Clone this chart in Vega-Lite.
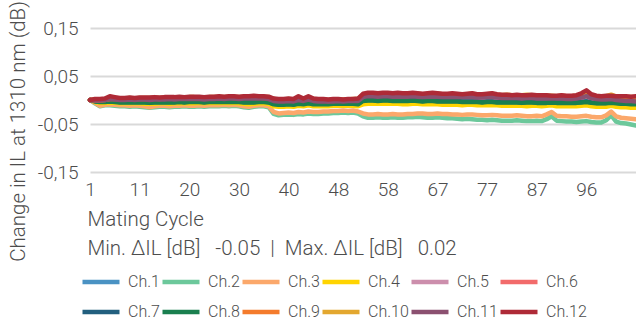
{
"$schema": "https://vega.github.io/schema/vega-lite/v6.json",
"width": 546, "height": 144,
"autosize": "none",
"padding": {"left": 90, "top": 28, "right": 0, "bottom": 150},
"background": "white",
"config": {"view": {"stroke": null}, "font": "Roboto"},
"data": {"values": [
{"i":0,"c01":0,"c02":0,"c03":0,"c04":0,"c05":0,"c06":0,"c07":0,"c08":0,"c09":0,"c10":0,"c11":0,"c12":0},
{"i":1,"c01":-0.001,"c02":-0.007,"c03":-0.006,"c04":-0.004,"c05":-0.002,"c06":0,"c07":-0.002,"c08":-0.003,"c09":-0.001,"c10":0.001,"c11":-0.001,"c12":0.002},
{"i":2,"c01":-0.002,"c02":-0.013,"c03":-0.012,"c04":-0.006,"c05":-0.002,"c06":0,"c07":-0.003,"c08":-0.004,"c09":-0.001,"c10":0.001,"c11":-0.001,"c12":0.002},
{"i":3,"c01":-0.002,"c02":-0.011,"c03":-0.010,"c04":-0.006,"c05":-0.001,"c06":0.001,"c07":-0.003,"c08":-0.004,"c09":0,"c10":0.002,"c11":0,"c12":0.003},
{"i":4,"c01":-0.001,"c02":-0.011,"c03":-0.009,"c04":-0.005,"c05":0.001,"c06":0.003,"c07":-0.002,"c08":-0.003,"c09":0.002,"c10":0.004,"c11":0.002,"c12":0.008},
{"i":5,"c01":-0.002,"c02":-0.012,"c03":-0.010,"c04":-0.006,"c05":0,"c06":0.003,"c07":-0.003,"c08":-0.004,"c09":0.002,"c10":0.004,"c11":0.001,"c12":0.006},
{"i":6,"c01":-0.003,"c02":-0.013,"c03":-0.011,"c04":-0.007,"c05":-0.001,"c06":0.002,"c07":-0.004,"c08":-0.005,"c09":0.001,"c10":0.003,"c11":0,"c12":0.004},
{"i":7,"c01":-0.003,"c02":-0.013,"c03":-0.011,"c04":-0.007,"c05":-0.001,"c06":0.002,"c07":-0.004,"c08":-0.005,"c09":0.001,"c10":0.003,"c11":0,"c12":0.004},
{"i":8,"c01":-0.003,"c02":-0.014,"c03":-0.012,"c04":-0.007,"c05":0,"c06":0.003,"c07":-0.004,"c08":-0.005,"c09":0.002,"c10":0.004,"c11":0.001,"c12":0.005},
{"i":9,"c01":-0.003,"c02":-0.013,"c03":-0.011,"c04":-0.007,"c05":-0.001,"c06":0.002,"c07":-0.004,"c08":-0.005,"c09":0.001,"c10":0.003,"c11":0,"c12":0.004},
{"i":10,"c01":-0.003,"c02":-0.014,"c03":-0.012,"c04":-0.007,"c05":0,"c06":0.003,"c07":-0.004,"c08":-0.005,"c09":0.002,"c10":0.004,"c11":0.001,"c12":0.005},
{"i":11,"c01":-0.003,"c02":-0.015,"c03":-0.013,"c04":-0.008,"c05":0,"c06":0.003,"c07":-0.004,"c08":-0.005,"c09":0.002,"c10":0.004,"c11":0.001,"c12":0.005},
{"i":12,"c01":-0.004,"c02":-0.016,"c03":-0.015,"c04":-0.008,"c05":-0.001,"c06":0.003,"c07":-0.005,"c08":-0.006,"c09":0.002,"c10":0.004,"c11":0,"c12":0.005},
{"i":13,"c01":-0.003,"c02":-0.015,"c03":-0.013,"c04":-0.008,"c05":0,"c06":0.004,"c07":-0.004,"c08":-0.005,"c09":0.003,"c10":0.005,"c11":0.001,"c12":0.006},
{"i":14,"c01":-0.003,"c02":-0.014,"c03":-0.012,"c04":-0.007,"c05":0,"c06":0.003,"c07":-0.004,"c08":-0.005,"c09":0.002,"c10":0.004,"c11":0.001,"c12":0.005},
{"i":15,"c01":-0.003,"c02":-0.014,"c03":-0.012,"c04":-0.007,"c05":0,"c06":0.004,"c07":-0.004,"c08":-0.005,"c09":0.003,"c10":0.005,"c11":0.001,"c12":0.006},
{"i":16,"c01":-0.003,"c02":-0.015,"c03":-0.013,"c04":-0.008,"c05":0.001,"c06":0.004,"c07":-0.004,"c08":-0.005,"c09":0.003,"c10":0.005,"c11":0.002,"c12":0.006},
{"i":17,"c01":-0.003,"c02":-0.014,"c03":-0.012,"c04":-0.007,"c05":0,"c06":0.004,"c07":-0.004,"c08":-0.005,"c09":0.003,"c10":0.005,"c11":0.001,"c12":0.006},
{"i":18,"c01":-0.002,"c02":-0.014,"c03":-0.012,"c04":-0.007,"c05":0.001,"c06":0.004,"c07":-0.003,"c08":-0.004,"c09":0.003,"c10":0.005,"c11":0.002,"c12":0.007},
{"i":19,"c01":-0.003,"c02":-0.013,"c03":-0.011,"c04":-0.007,"c05":0.001,"c06":0.004,"c07":-0.004,"c08":-0.005,"c09":0.003,"c10":0.005,"c11":0.002,"c12":0.006},
{"i":20,"c01":-0.002,"c02":-0.014,"c03":-0.012,"c04":-0.007,"c05":0.001,"c06":0.005,"c07":-0.003,"c08":-0.004,"c09":0.004,"c10":0.006,"c11":0.002,"c12":0.007},
{"i":21,"c01":-0.002,"c02":-0.014,"c03":-0.012,"c04":-0.007,"c05":0.001,"c06":0.005,"c07":-0.003,"c08":-0.004,"c09":0.004,"c10":0.006,"c11":0.002,"c12":0.007},
{"i":22,"c01":-0.002,"c02":-0.013,"c03":-0.011,"c04":-0.006,"c05":0.001,"c06":0.004,"c07":-0.003,"c08":-0.004,"c09":0.003,"c10":0.005,"c11":0.002,"c12":0.007},
{"i":23,"c01":-0.003,"c02":-0.014,"c03":-0.012,"c04":-0.007,"c05":0,"c06":0.004,"c07":-0.004,"c08":-0.005,"c09":0.003,"c10":0.005,"c11":0.001,"c12":0.006},
{"i":24,"c01":-0.002,"c02":-0.013,"c03":-0.011,"c04":-0.006,"c05":0.001,"c06":0.005,"c07":-0.003,"c08":-0.004,"c09":0.004,"c10":0.006,"c11":0.002,"c12":0.007},
{"i":25,"c01":-0.002,"c02":-0.013,"c03":-0.011,"c04":-0.006,"c05":0.001,"c06":0.005,"c07":-0.003,"c08":-0.004,"c09":0.004,"c10":0.006,"c11":0.002,"c12":0.007},
{"i":26,"c01":-0.002,"c02":-0.013,"c03":-0.011,"c04":-0.006,"c05":0.002,"c06":0.005,"c07":-0.003,"c08":-0.004,"c09":0.004,"c10":0.006,"c11":0.003,"c12":0.008},
{"i":27,"c01":-0.002,"c02":-0.012,"c03":-0.010,"c04":-0.006,"c05":0.001,"c06":0.005,"c07":-0.003,"c08":-0.004,"c09":0.004,"c10":0.006,"c11":0.002,"c12":0.007},
{"i":28,"c01":-0.002,"c02":-0.013,"c03":-0.011,"c04":-0.006,"c05":0.002,"c06":0.006,"c07":-0.003,"c08":-0.004,"c09":0.005,"c10":0.007,"c11":0.003,"c12":0.008},
{"i":29,"c01":-0.002,"c02":-0.012,"c03":-0.010,"c04":-0.006,"c05":0.002,"c06":0.005,"c07":-0.003,"c08":-0.004,"c09":0.004,"c10":0.006,"c11":0.003,"c12":0.008},
{"i":30,"c01":-0.002,"c02":-0.013,"c03":-0.011,"c04":-0.007,"c05":0.001,"c06":0.005,"c07":-0.003,"c08":-0.004,"c09":0.004,"c10":0.006,"c11":0.002,"c12":0.007},
{"i":31,"c01":-0.003,"c02":-0.015,"c03":-0.013,"c04":-0.008,"c05":0.002,"c06":0.006,"c07":-0.004,"c08":-0.005,"c09":0.005,"c10":0.007,"c11":0.003,"c12":0.008},
{"i":32,"c01":-0.003,"c02":-0.016,"c03":-0.014,"c04":-0.009,"c05":0.002,"c06":0.006,"c07":-0.004,"c08":-0.005,"c09":0.005,"c10":0.007,"c11":0.003,"c12":0.008},
{"i":33,"c01":-0.003,"c02":-0.014,"c03":-0.012,"c04":-0.008,"c05":0.002,"c06":0.006,"c07":-0.004,"c08":-0.005,"c09":0.005,"c10":0.007,"c11":0.003,"c12":0.009},
{"i":34,"c01":-0.002,"c02":-0.013,"c03":-0.011,"c04":-0.007,"c05":0.002,"c06":0.006,"c07":-0.003,"c08":-0.004,"c09":0.005,"c10":0.007,"c11":0.003,"c12":0.008},
{"i":35,"c01":-0.002,"c02":-0.013,"c03":-0.011,"c04":-0.007,"c05":0.002,"c06":0.005,"c07":-0.003,"c08":-0.004,"c09":0.004,"c10":0.006,"c11":0.003,"c12":0.008},
{"i":36,"c01":-0.003,"c02":-0.015,"c03":-0.013,"c04":-0.008,"c05":0.001,"c06":0.005,"c07":-0.004,"c08":-0.005,"c09":0.004,"c10":0.006,"c11":0.002,"c12":0.007},
{"i":37,"c01":-0.007,"c02":-0.029,"c03":-0.025,"c04":-0.013,"c05":-0.003,"c06":0.001,"c07":-0.008,"c08":-0.009,"c09":0,"c10":0.002,"c11":-0.002,"c12":0.003},
{"i":38,"c01":-0.008,"c02":-0.032,"c03":-0.028,"c04":-0.014,"c05":-0.004,"c06":0,"c07":-0.009,"c08":-0.010,"c09":-0.001,"c10":0.001,"c11":-0.003,"c12":0.002},
{"i":39,"c01":-0.008,"c02":-0.031,"c03":-0.027,"c04":-0.014,"c05":-0.004,"c06":0,"c07":-0.009,"c08":-0.010,"c09":-0.001,"c10":0.001,"c11":-0.003,"c12":0.002},
{"i":40,"c01":-0.007,"c02":-0.030,"c03":-0.026,"c04":-0.013,"c05":-0.003,"c06":0.001,"c07":-0.008,"c08":-0.009,"c09":0,"c10":0.002,"c11":-0.002,"c12":0.003},
{"i":41,"c01":-0.008,"c02":-0.031,"c03":-0.027,"c04":-0.014,"c05":-0.004,"c06":0,"c07":-0.009,"c08":-0.010,"c09":-0.001,"c10":0.001,"c11":-0.003,"c12":0.002},
{"i":42,"c01":-0.006,"c02":-0.029,"c03":-0.025,"c04":-0.012,"c05":-0.001,"c06":0.004,"c07":-0.007,"c08":-0.008,"c09":0.003,"c10":0.005,"c11":0,"c12":0.008},
{"i":43,"c01":-0.007,"c02":-0.030,"c03":-0.026,"c04":-0.013,"c05":-0.003,"c06":0.001,"c07":-0.008,"c08":-0.009,"c09":0,"c10":0.002,"c11":-0.002,"c12":0.003},
{"i":44,"c01":-0.005,"c02":-0.028,"c03":-0.024,"c04":-0.011,"c05":0,"c06":0.005,"c07":-0.006,"c08":-0.007,"c09":0.004,"c10":0.006,"c11":0.001,"c12":0.008},
{"i":45,"c01":-0.007,"c02":-0.029,"c03":-0.025,"c04":-0.013,"c05":-0.003,"c06":0.001,"c07":-0.008,"c08":-0.009,"c09":0,"c10":0.002,"c11":-0.002,"c12":0.003},
{"i":46,"c01":-0.007,"c02":-0.029,"c03":-0.025,"c04":-0.013,"c05":-0.004,"c06":0,"c07":-0.008,"c08":-0.009,"c09":-0.001,"c10":0.001,"c11":-0.003,"c12":0.002},
{"i":47,"c01":-0.007,"c02":-0.028,"c03":-0.024,"c04":-0.013,"c05":-0.004,"c06":0,"c07":-0.008,"c08":-0.009,"c09":-0.001,"c10":0.001,"c11":-0.003,"c12":0.002},
{"i":48,"c01":-0.007,"c02":-0.028,"c03":-0.024,"c04":-0.013,"c05":-0.004,"c06":-0.001,"c07":-0.008,"c08":-0.009,"c09":-0.002,"c10":0,"c11":-0.003,"c12":0.001},
{"i":49,"c01":-0.006,"c02":-0.027,"c03":-0.023,"c04":-0.012,"c05":-0.004,"c06":0,"c07":-0.007,"c08":-0.008,"c09":-0.001,"c10":0.001,"c11":-0.003,"c12":0.002},
{"i":50,"c01":-0.006,"c02":-0.027,"c03":-0.023,"c04":-0.012,"c05":-0.003,"c06":0,"c07":-0.007,"c08":-0.008,"c09":-0.001,"c10":0.001,"c11":-0.002,"c12":0.002},
{"i":51,"c01":-0.006,"c02":-0.026,"c03":-0.022,"c04":-0.012,"c05":-0.004,"c06":0,"c07":-0.007,"c08":-0.008,"c09":-0.001,"c10":0.001,"c11":-0.003,"c12":0.001},
{"i":52,"c01":-0.006,"c02":-0.027,"c03":-0.023,"c04":-0.012,"c05":-0.003,"c06":0,"c07":-0.007,"c08":-0.008,"c09":-0.001,"c10":0.001,"c11":-0.002,"c12":0.002},
{"i":53,"c01":-0.006,"c02":-0.026,"c03":-0.022,"c04":-0.012,"c05":-0.003,"c06":0.001,"c07":-0.007,"c08":-0.008,"c09":0,"c10":0.002,"c11":-0.002,"c12":0.002},
{"i":54,"c01":-0.007,"c02":-0.028,"c03":-0.024,"c04":-0.013,"c05":-0.003,"c06":0.001,"c07":-0.008,"c08":-0.009,"c09":0,"c10":0.002,"c11":-0.002,"c12":0.003},
{"i":55,"c01":0,"c02":-0.034,"c03":-0.028,"c04":-0.009,"c05":0.005,"c06":0.010,"c07":-0.001,"c08":-0.002,"c09":0.009,"c10":0.011,"c11":0.006,"c12":0.013},
{"i":56,"c01":0.001,"c02":-0.037,"c03":-0.030,"c04":-0.008,"c05":0.007,"c06":0.012,"c07":0,"c08":-0.001,"c09":0.011,"c10":0.013,"c11":0.008,"c12":0.015},
{"i":57,"c01":0.001,"c02":-0.037,"c03":-0.030,"c04":-0.008,"c05":0.007,"c06":0.012,"c07":0,"c08":-0.001,"c09":0.011,"c10":0.013,"c11":0.008,"c12":0.015},
{"i":58,"c01":0,"c02":-0.036,"c03":-0.029,"c04":-0.008,"c05":0.006,"c06":0.011,"c07":-0.001,"c08":-0.002,"c09":0.010,"c10":0.012,"c11":0.007,"c12":0.014},
{"i":59,"c01":0.001,"c02":-0.037,"c03":-0.030,"c04":-0.008,"c05":0.007,"c06":0.012,"c07":0,"c08":-0.001,"c09":0.011,"c10":0.013,"c11":0.008,"c12":0.015},
{"i":60,"c01":0.001,"c02":-0.037,"c03":-0.030,"c04":-0.008,"c05":0.007,"c06":0.012,"c07":0,"c08":-0.001,"c09":0.011,"c10":0.013,"c11":0.008,"c12":0.015},
{"i":61,"c01":0,"c02":-0.036,"c03":-0.029,"c04":-0.008,"c05":0.006,"c06":0.011,"c07":-0.001,"c08":-0.002,"c09":0.010,"c10":0.012,"c11":0.007,"c12":0.014},
{"i":62,"c01":0,"c02":-0.037,"c03":-0.030,"c04":-0.008,"c05":0.006,"c06":0.012,"c07":-0.001,"c08":-0.002,"c09":0.011,"c10":0.013,"c11":0.007,"c12":0.015},
{"i":63,"c01":0,"c02":-0.037,"c03":-0.030,"c04":-0.009,"c05":0.006,"c06":0.012,"c07":-0.001,"c08":-0.002,"c09":0.011,"c10":0.013,"c11":0.007,"c12":0.014},
{"i":64,"c01":0,"c02":-0.036,"c03":-0.029,"c04":-0.009,"c05":0.006,"c06":0.011,"c07":-0.001,"c08":-0.002,"c09":0.010,"c10":0.012,"c11":0.007,"c12":0.014},
{"i":65,"c01":0.001,"c02":-0.036,"c03":-0.029,"c04":-0.008,"c05":0.007,"c06":0.012,"c07":0,"c08":-0.001,"c09":0.011,"c10":0.013,"c11":0.008,"c12":0.015},
{"i":66,"c01":0,"c02":-0.035,"c03":-0.028,"c04":-0.008,"c05":0.006,"c06":0.012,"c07":-0.001,"c08":-0.002,"c09":0.011,"c10":0.013,"c11":0.007,"c12":0.014},
{"i":67,"c01":-0.001,"c02":-0.036,"c03":-0.028,"c04":-0.009,"c05":0.005,"c06":0.011,"c07":-0.002,"c08":-0.003,"c09":0.010,"c10":0.012,"c11":0.006,"c12":0.013},
{"i":68,"c01":0,"c02":-0.037,"c03":-0.029,"c04":-0.009,"c05":0.006,"c06":0.011,"c07":-0.001,"c08":-0.002,"c09":0.010,"c10":0.012,"c11":0.007,"c12":0.014},
{"i":69,"c01":0,"c02":-0.037,"c03":-0.029,"c04":-0.009,"c05":0.006,"c06":0.012,"c07":-0.001,"c08":-0.002,"c09":0.011,"c10":0.013,"c11":0.007,"c12":0.015},
{"i":70,"c01":-0.001,"c02":-0.036,"c03":-0.028,"c04":-0.009,"c05":0.006,"c06":0.012,"c07":-0.002,"c08":-0.003,"c09":0.011,"c10":0.013,"c11":0.007,"c12":0.014},
{"i":71,"c01":-0.001,"c02":-0.037,"c03":-0.029,"c04":-0.010,"c05":0.005,"c06":0.011,"c07":-0.002,"c08":-0.003,"c09":0.010,"c10":0.012,"c11":0.006,"c12":0.013},
{"i":72,"c01":-0.001,"c02":-0.038,"c03":-0.029,"c04":-0.010,"c05":0.005,"c06":0.011,"c07":-0.002,"c08":-0.003,"c09":0.010,"c10":0.012,"c11":0.006,"c12":0.013},
{"i":73,"c01":-0.001,"c02":-0.038,"c03":-0.030,"c04":-0.010,"c05":0.006,"c06":0.011,"c07":-0.002,"c08":-0.003,"c09":0.010,"c10":0.012,"c11":0.007,"c12":0.014},
{"i":74,"c01":-0.001,"c02":-0.039,"c03":-0.030,"c04":-0.010,"c05":0.005,"c06":0.011,"c07":-0.002,"c08":-0.003,"c09":0.010,"c10":0.012,"c11":0.006,"c12":0.013},
{"i":75,"c01":-0.002,"c02":-0.040,"c03":-0.031,"c04":-0.011,"c05":0.005,"c06":0.010,"c07":-0.003,"c08":-0.004,"c09":0.009,"c10":0.011,"c11":0.006,"c12":0.012},
{"i":76,"c01":-0.002,"c02":-0.039,"c03":-0.030,"c04":-0.010,"c05":0.005,"c06":0.011,"c07":-0.003,"c08":-0.004,"c09":0.010,"c10":0.012,"c11":0.006,"c12":0.013},
{"i":77,"c01":-0.002,"c02":-0.040,"c03":-0.030,"c04":-0.010,"c05":0.005,"c06":0.012,"c07":-0.003,"c08":-0.004,"c09":0.011,"c10":0.013,"c11":0.006,"c12":0.014},
{"i":78,"c01":-0.002,"c02":-0.041,"c03":-0.031,"c04":-0.011,"c05":0.004,"c06":0.010,"c07":-0.003,"c08":-0.004,"c09":0.009,"c10":0.011,"c11":0.005,"c12":0.012},
{"i":79,"c01":-0.003,"c02":-0.041,"c03":-0.032,"c04":-0.011,"c05":0.004,"c06":0.010,"c07":-0.004,"c08":-0.005,"c09":0.009,"c10":0.011,"c11":0.005,"c12":0.012},
{"i":80,"c01":-0.002,"c02":-0.042,"c03":-0.032,"c04":-0.011,"c05":0.005,"c06":0.011,"c07":-0.003,"c08":-0.004,"c09":0.010,"c10":0.012,"c11":0.006,"c12":0.013},
{"i":81,"c01":-0.002,"c02":-0.041,"c03":-0.031,"c04":-0.011,"c05":0.005,"c06":0.012,"c07":-0.003,"c08":-0.004,"c09":0.011,"c10":0.013,"c11":0.006,"c12":0.014},
{"i":82,"c01":-0.003,"c02":-0.042,"c03":-0.032,"c04":-0.011,"c05":0.004,"c06":0.010,"c07":-0.004,"c08":-0.005,"c09":0.009,"c10":0.011,"c11":0.005,"c12":0.012},
{"i":83,"c01":-0.003,"c02":-0.043,"c03":-0.033,"c04":-0.012,"c05":0.003,"c06":0.009,"c07":-0.004,"c08":-0.005,"c09":0.008,"c10":0.010,"c11":0.004,"c12":0.011},
{"i":84,"c01":-0.003,"c02":-0.043,"c03":-0.033,"c04":-0.012,"c05":0.003,"c06":0.010,"c07":-0.004,"c08":-0.005,"c09":0.009,"c10":0.011,"c11":0.004,"c12":0.011},
{"i":85,"c01":-0.003,"c02":-0.043,"c03":-0.033,"c04":-0.012,"c05":0.003,"c06":0.009,"c07":-0.004,"c08":-0.005,"c09":0.008,"c10":0.010,"c11":0.004,"c12":0.010},
{"i":86,"c01":-0.003,"c02":-0.042,"c03":-0.032,"c04":-0.012,"c05":0.003,"c06":0.009,"c07":-0.004,"c08":-0.005,"c09":0.008,"c10":0.010,"c11":0.004,"c12":0.011},
{"i":87,"c01":-0.004,"c02":-0.043,"c03":-0.033,"c04":-0.012,"c05":0.002,"c06":0.009,"c07":-0.005,"c08":-0.006,"c09":0.008,"c10":0.010,"c11":0.003,"c12":0.010},
{"i":88,"c01":-0.003,"c02":-0.044,"c03":-0.034,"c04":-0.013,"c05":0.003,"c06":0.010,"c07":-0.004,"c08":-0.005,"c09":0.009,"c10":0.011,"c11":0.004,"c12":0.010},
{"i":89,"c01":-0.003,"c02":-0.044,"c03":-0.034,"c04":-0.012,"c05":0.003,"c06":0.009,"c07":-0.004,"c08":-0.005,"c09":0.008,"c10":0.010,"c11":0.004,"c12":0.011},
{"i":90,"c01":-0.004,"c02":-0.043,"c03":-0.033,"c04":-0.012,"c05":0.002,"c06":0.008,"c07":-0.005,"c08":-0.006,"c09":0.007,"c10":0.009,"c11":0.003,"c12":0.010},
{"i":91,"c01":-0.004,"c02":-0.044,"c03":-0.034,"c04":-0.013,"c05":0.002,"c06":0.008,"c07":-0.005,"c08":-0.006,"c09":0.007,"c10":0.009,"c11":0.003,"c12":0.010},
{"i":92,"c01":-0.004,"c02":-0.040,"c03":-0.030,"c04":-0.012,"c05":0.002,"c06":0.008,"c07":-0.005,"c08":-0.006,"c09":0.007,"c10":0.009,"c11":0.003,"c12":0.010},
{"i":93,"c01":-0.003,"c02":-0.034,"c03":-0.025,"c04":-0.011,"c05":0.002,"c06":0.008,"c07":-0.004,"c08":-0.005,"c09":0.007,"c10":0.009,"c11":0.003,"c12":0.009},
{"i":94,"c01":-0.004,"c02":-0.043,"c03":-0.033,"c04":-0.013,"c05":0.002,"c06":0.007,"c07":-0.005,"c08":-0.006,"c09":0.006,"c10":0.008,"c11":0.003,"c12":0.009},
{"i":95,"c01":-0.004,"c02":-0.044,"c03":-0.034,"c04":-0.013,"c05":0.002,"c06":0.008,"c07":-0.005,"c08":-0.006,"c09":0.007,"c10":0.009,"c11":0.003,"c12":0.010},
{"i":96,"c01":-0.004,"c02":-0.045,"c03":-0.034,"c04":-0.013,"c05":0.001,"c06":0.007,"c07":-0.005,"c08":-0.006,"c09":0.006,"c10":0.008,"c11":0.002,"c12":0.009},
{"i":97,"c01":-0.004,"c02":-0.045,"c03":-0.035,"c04":-0.013,"c05":0.001,"c06":0.007,"c07":-0.005,"c08":-0.006,"c09":0.006,"c10":0.008,"c11":0.002,"c12":0.009},
{"i":98,"c01":-0.004,"c02":-0.046,"c03":-0.035,"c04":-0.013,"c05":0.002,"c06":0.008,"c07":-0.005,"c08":-0.006,"c09":0.007,"c10":0.009,"c11":0.003,"c12":0.010},
{"i":99,"c01":-0.003,"c02":-0.045,"c03":-0.034,"c04":-0.012,"c05":0.004,"c06":0.010,"c07":-0.004,"c08":-0.005,"c09":0.009,"c10":0.011,"c11":0.005,"c12":0.014},
{"i":100,"c01":-0.002,"c02":-0.044,"c03":-0.033,"c04":-0.011,"c05":0.007,"c06":0.013,"c07":-0.003,"c08":-0.004,"c09":0.012,"c10":0.014,"c11":0.008,"c12":0.020},
{"i":101,"c01":-0.004,"c02":-0.046,"c03":-0.035,"c04":-0.013,"c05":0.003,"c06":0.009,"c07":-0.005,"c08":-0.006,"c09":0.008,"c10":0.010,"c11":0.004,"c12":0.012},
{"i":102,"c01":-0.005,"c02":-0.047,"c03":-0.036,"c04":-0.014,"c05":0.001,"c06":0.007,"c07":-0.006,"c08":-0.007,"c09":0.006,"c10":0.008,"c11":0.002,"c12":0.009},
{"i":103,"c01":-0.005,"c02":-0.047,"c03":-0.036,"c04":-0.014,"c05":0,"c06":0.006,"c07":-0.006,"c08":-0.007,"c09":0.005,"c10":0.007,"c11":0.001,"c12":0.008},
{"i":104,"c01":-0.005,"c02":-0.042,"c03":-0.032,"c04":-0.014,"c05":0,"c06":0.007,"c07":-0.006,"c08":-0.007,"c09":0.006,"c10":0.008,"c11":0.001,"c12":0.009},
{"i":105,"c01":-0.004,"c02":-0.032,"c03":-0.024,"c04":-0.012,"c05":0.001,"c06":0.010,"c07":-0.005,"c08":-0.006,"c09":0.009,"c10":0.011,"c11":0.002,"c12":0.009},
{"i":106,"c01":-0.005,"c02":-0.045,"c03":-0.034,"c04":-0.014,"c05":-0.001,"c06":0.006,"c07":-0.006,"c08":-0.007,"c09":0.005,"c10":0.007,"c11":0,"c12":0.008},
{"i":107,"c01":-0.006,"c02":-0.048,"c03":-0.037,"c04":-0.015,"c05":-0.002,"c06":0.006,"c07":-0.007,"c08":-0.008,"c09":0.005,"c10":0.007,"c11":-0.001,"c12":0.008},
{"i":108,"c01":-0.006,"c02":-0.049,"c03":-0.038,"c04":-0.015,"c05":-0.003,"c06":0.005,"c07":-0.007,"c08":-0.008,"c09":0.004,"c10":0.006,"c11":-0.002,"c12":0.008},
{"i":109,"c01":-0.007,"c02":-0.051,"c03":-0.039,"c04":-0.016,"c05":-0.003,"c06":0.005,"c07":-0.008,"c08":-0.009,"c09":0.004,"c10":0.006,"c11":-0.002,"c12":0.007},
{"i":110,"c01":-0.007,"c02":-0.053,"c03":-0.040,"c04":-0.016,"c05":-0.004,"c06":0.005,"c07":-0.008,"c08":-0.009,"c09":0.004,"c10":0.006,"c11":-0.003,"c12":0.008}
]},
"transform": [{"fold": ["c01","c02","c03","c04","c05","c06","c07","c08","c09","c10","c11","c12"], "as": ["ch", "il"]}],
"mark": {"type": "line", "strokeWidth": 4.5, "strokeCap": "round", "strokeJoin": "round"},
"encoding": {
  "x": {"field": "i", "type": "quantitative",
    "scale": {"domain": [0, 110], "nice": false, "zero": false},
    "axis": {"values": [0,10,20,30,40,50,60,70,80,90,100],
      "labelExpr": "['1','11','20','30','40','48','58','67','77','87','96'][datum.value / 10]",
      "grid": false, "domain": false, "ticks": false, "labelPadding": 8,
      "labelFontSize": 19, "labelColor": "#4d4d4d", "labelFont": "Roboto", "labelFontWeight": 300,
      "labelFlush": false, "labelOverlap": false,
      "title": ["Mating Cycle", "Min. ΔIL [dB]\u00a0\u00a0 -0.05 \u00a0|\u00a0 Max. ΔIL [dB]\u00a0\u00a0 0.02"],
      "titleAnchor": "start", "titleAlign": "left", "titleX": -3, "titleY": 53, "titleBaseline": "alphabetic",
      "titleFontSize": 20.5, "titleFontWeight": 300, "titleFont": "Roboto", "titleColor": "#4d4d4d", "titleLineHeight": 29}},
  "y": {"field": "il", "type": "quantitative",
    "scale": {"domain": [-0.15, 0.15], "nice": false},
    "axis": {"values": [-0.15, -0.05, 0.05, 0.15],
      "labelExpr": "replace(toString(datum.value), '.', ',')",
      "grid": true, "gridColor": "#d9d9d9", "gridWidth": 2, "domain": false, "ticks": false,
      "labelPadding": 12, "labelFontSize": 19, "labelColor": "#4d4d4d", "labelFont": "Roboto", "labelFontWeight": 300,
      "title": "Change in IL at 1310 nm (dB)", "titleX": -72, "titleY": 103, "titleAngle": 270,
      "titleAlign": "center", "titleBaseline": "middle",
      "titleFontSize": 20.5, "titleFontWeight": 300, "titleFont": "Roboto", "titleColor": "#4d4d4d"}},
  "color": {"field": "ch", "type": "nominal",
    "scale": {"domain": ["c01","c02","c03","c04","c05","c06","c07","c08","c09","c10","c11","c12"],
      "range": ["#4a92c3","#6cc89b","#fba86b","#ffd400","#cc8eac","#f26b6b","#225f7e","#1a7f4f","#f47b2c","#e3a72f","#8b5070","#ae2a37"]},
    "legend": {"orient": "none", "legendX": -10, "legendY": 233, "direction": "horizontal", "columns": 6,
      "title": null, "symbolType": "stroke", "symbolSize": 1369, "symbolStrokeWidth": 4.5,
      "labelFontSize": 16, "labelColor": "#4d4d4d", "labelFont": "Roboto", "labelFontWeight": 300,
      "labelOffset": 6, "columnPadding": -8, "rowPadding": -12,
      "labelExpr": "'Ch.' + toNumber(slice(datum.label, 1))"}}
}
}
